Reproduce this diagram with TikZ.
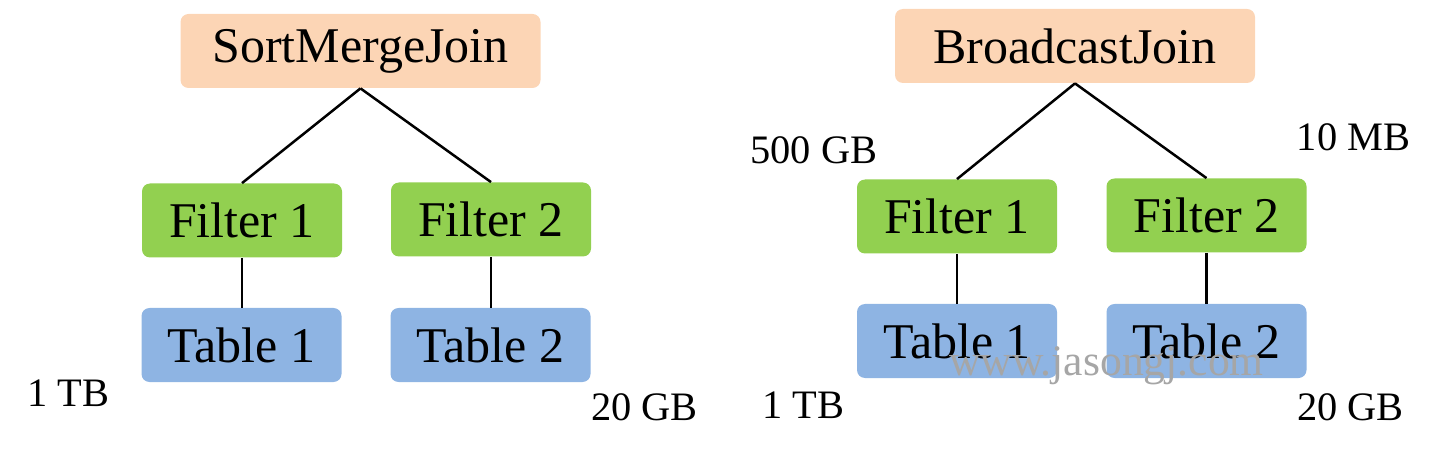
\documentclass[tikz,border=0pt]{standalone}
\usepackage{fontspec}
\setmainfont{Liberation Serif}
\definecolor{joinc}{HTML}{FCD5B5}
\definecolor{filtc}{HTML}{92D050}
\definecolor{tabc}{HTML}{8EB4E3}
\begin{document}
\begin{tikzpicture}[x=0.5pt,y=-0.5pt,
  box/.style={rounded corners=4pt, inner sep=0pt, minimum width=100pt, minimum height=37pt, font=\fontsize{25}{28}\selectfont},
  joinbox/.style={box, fill=joinc, minimum width=180pt},
  filtbox/.style={box, fill=filtc},
  tabbox/.style={box, fill=tabc},
  lbl/.style={inner sep=0pt, font=\fontsize{20.2}{24}\selectfont},
  edge/.style={line width=1.25pt, black},
  wm/.style={inner sep=0pt, text=black!35, font=\fontsize{21.8}{24}\selectfont}]
\useasboundingbox (0,0) rectangle (1435,454);
% left tree
\node[joinbox] (smj) at (360.5,51) {SortMergeJoin};
\node[filtbox] (lf1) at (242,220.5) {Filter 1};
\node[filtbox] (lf2) at (491,219.5) {Filter 2};
\node[tabbox] (lt1) at (241.5,345) {Table 1};
\node[tabbox] (lt2) at (490.5,345) {Table 2};
\draw[edge] (smj.south) -- (lf1.north);
\draw[edge] (smj.south) -- (lf2.north);
\draw[edge] (lf1.south) -- (lf1.south |- lt1.north);
\draw[edge] (lf2.south) -- (lf2.south |- lt2.north);
\node[lbl] (l1tb) at (68,393) {1 TB};
\node[lbl] (l20gb) at (644.5,407) {20 GB};
% right tree
\node[joinbox] (bj) at (1075,46) {BroadcastJoin};
\node[filtbox] (rf1) at (957,216.5) {Filter 1};
\node[filtbox] (rf2) at (1206.5,215.5) {Filter 2};
\node[tabbox] (rt1) at (957,341) {Table 1};
\node[tabbox] (rt2) at (1206.5,341) {Table 2};
\draw[edge] (bj.south) -- (rf1.north);
\draw[edge] (bj.south) -- (rf2.north);
\draw[edge] (rf1.south) -- (rf1.south |- rt1.north);
\draw[edge] (rf2.south) -- (rf2.south |- rt2.north);
\node[lbl] (r500) at (814,150) {500 GB};
\node[lbl] (r10) at (1353.5,137) {10 MB};
\node[lbl] (r1tb) at (803,405) {1 TB};
\node[lbl] (r20gb) at (1350.5,407) {20 GB};
\node[wm] (wmark) at (1106.5,366) {www.jasongj.com};
\end{tikzpicture}
\end{document}
